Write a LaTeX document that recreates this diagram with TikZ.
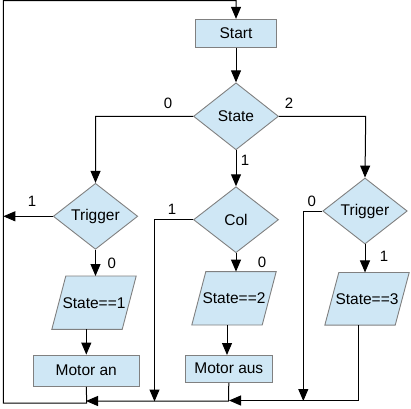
\documentclass[tikz,border=0pt]{standalone}
\usepackage{fontspec}
\setmainfont{Liberation Sans}
\usetikzlibrary{shapes.geometric,arrows.meta,backgrounds}
\definecolor{boxfill}{HTML}{CFE7F5}
\definecolor{boxdraw}{HTML}{808080}
\tikzset{
  base/.style={draw=boxdraw, fill=boxfill, line width=0.9pt, inner sep=0pt, font=\fontsize{15.5}{18}\selectfont},
  procbox/.style={base, rectangle},
  decision/.style={base, diamond, aspect=1.28},
  iobox/.style={rectangle, inner sep=0pt, font=\fontsize{15.5}{18}\selectfont, minimum width=84pt, minimum height=53pt},
  ioshape/.style={draw=boxdraw, fill=boxfill, line width=0.9pt},
  conn/.style={line width=1pt, black},
  arr/.style={conn, -{Triangle[length=12pt,width=10pt]}},
  lbl/.style={font=\fontsize{15}{18}\selectfont, inner sep=0pt}
}
\begin{document}
\begin{tikzpicture}[x=1pt,y=-1pt]
\useasboundingbox (0,0) rectangle (411,408);
% nodes
\node[procbox, minimum width=81pt, minimum height=28pt] (start) at (236,33.3) {Start};
\node[decision, minimum width=85pt, minimum height=67pt] (state) at (236,116.3) {State};
\node[decision, minimum width=84.5pt, minimum height=66pt] (trigL) at (95.5,216.3) {Trigger};
\node[decision, minimum width=85pt, minimum height=66pt] (col) at (236,219.7) {Col};
\node[decision, minimum width=84.5pt, minimum height=66pt] (trigR) at (365,211) {Trigger};
\node[iobox] (s1) at (94,302.7) {State==1};
\node[iobox] (s2) at (234,298.3) {State==2};
\node[iobox, minimum height=52.3pt] (s3) at (367,298.8) {State==3};
\node[procbox, minimum width=106pt, minimum height=31.3pt] (man) at (86.3,370.7) {Motor an};
\node[procbox, minimum width=87pt, minimum height=27.3pt] (maus) at (228.8,368.7) {Motor aus};
% parallelogram outlines behind the io nodes
\begin{pgfonlayer}{background}
\foreach \n in {s1,s2,s3}{
  \draw[ioshape] ([xshift=14pt]\n.north west) -- (\n.north east) -- ([xshift=-14pt]\n.south east) -- (\n.south west) -- cycle;
}
\end{pgfonlayer}
% labels
\node[lbl] (l0a) at (168,103) {0};
\node[lbl] (l2a) at (289,103) {2};
\node[lbl] (l1a) at (245,160) {1};
\node[lbl] (l1b) at (32,201.7) {1};
\node[lbl] (l0b) at (111.7,263.3) {0};
\node[lbl] (l1c) at (172,209) {1};
\node[lbl] (l0c) at (262,262) {0};
\node[lbl] (l0d) at (311.7,201.7) {0};
\node[lbl] (l1d) at (384,256) {1};
% coordinates
\coordinate (topL) at (3.3,0.7);
\coordinate (botL) at (3.3,403);
\coordinate (leftHit) at (3.3,216.3);
\coordinate (cL) at (95.7,116.3);
\coordinate (cR) at (365.7,116.3);
\coordinate (colDown) at (154.5,219.7);
\coordinate (colEnd) at (154.5,401.5);
\coordinate (trDown) at (303.3,211);
\coordinate (trEnd) at (303.3,401);
\coordinate (s3Out) at (358.3,325);
\coordinate (s3Bot) at (358.3,400.5);
\coordinate (mausBot) at (228.5,401);
\coordinate (manBot) at (86.7,403);
% connectors
\draw[arr] (start) -- (state);
\draw[arr] (state.west) -- (cL) -- (trigL.north);
\draw[arr] (state.east) -- (cR) -- (trigR.north);
\draw[arr] (state.south) -- (col.north);
\draw[arr] (trigL.west) -- (leftHit);
\draw[arr] (trigL.south) -- (trigL.south |- s1.north);
\draw[arr] (col.south) -- (col.south |- s2.north);
\draw[arr] (trigR.south) -- (trigR.south |- s3.north);
\draw[arr] (col.west) -- (colDown) -- (colEnd);
\draw[arr] (trigR.west) -- (trDown) -- (trEnd);
\draw[arr] (s1.south -| man.north) -- (man.north);
\draw[arr] (s2.south -| 227,0) -- (227,355);
\draw[arr] (s3Out) -- (s3Bot) -- (229,400.5);
\draw[arr] (maus.south) -- (mausBot) -- (86,401);
\draw[arr] (man.south) -- (manBot) -- (botL) -- (topL) -- (topL -| start.north) -- (start.north);
\end{tikzpicture}
\end{document}
